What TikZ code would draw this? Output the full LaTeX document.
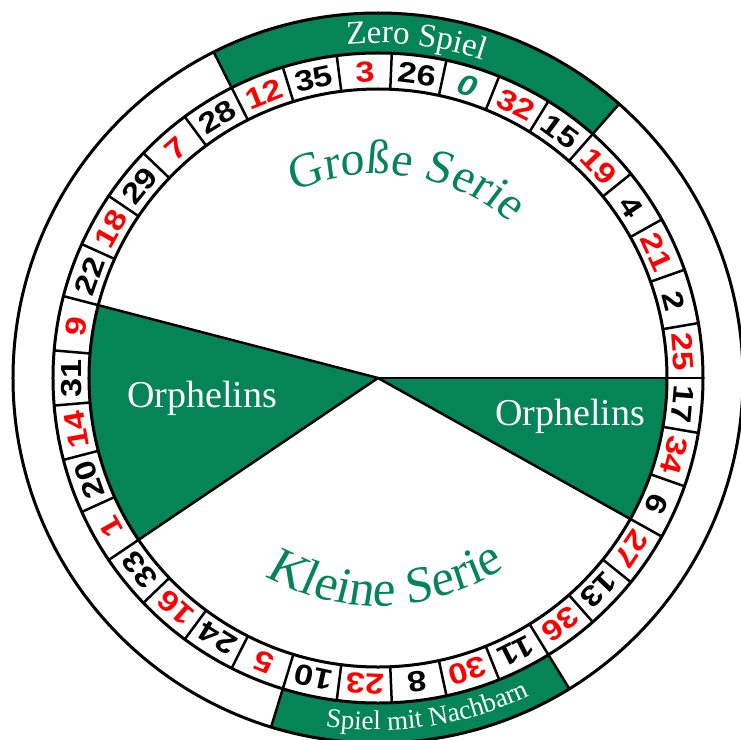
\documentclass[tikz,border=0pt]{standalone}
\usepackage{fontspec}
\usetikzlibrary{decorations.text}
\newfontfamily\numfont{Liberation Sans}[FakeStretch=1.18]
\newfontfamily\labfont{Liberation Serif}
\newfontfamily\seriefont{Liberation Serif}[FakeSlant=0.08]
\definecolor{zgreen}{RGB}{5,133,87}
\definecolor{nred}{RGB}{255,0,0}
\begin{document}
\begin{tikzpicture}[x=1pt,y=1pt,
  numb/.style={font=\numfont\bfseries\fontsize{29}{29}\selectfont, text=black, inner sep=0pt},
  numr/.style={numb, text=nred},
  numz/.style={numb, font=\numfont\bfseries\itshape\fontsize{29}{29}\selectfont, text=zgreen},
  orph/.style={font=\labfont\fontsize{38}{38}\selectfont, text=white, anchor=base, inner sep=0pt},
  ring/.style={line width=3pt},
  cellline/.style={line width=2.5pt, line cap=round}]
\path[use as bounding box] (-378,-361) rectangle (363,378);
\clip (-378,-361) rectangle (363,378);
\fill[white] (-378,-361) rectangle (363,378);
% Orphelins sectors
\fill[zgreen] (0,0) -- (0:289) arc[start angle=0, end angle=-29.189, radius=289] -- cycle;
\fill[zgreen] (0,0) -- (165.405:289) arc[start angle=165.405, end angle=214.054, radius=289] -- cycle;
% outer bands
\fill[zgreen] (116.757:325) arc[start angle=116.757, end angle=48.649, radius=325] -- (48.649:365) arc[start angle=48.649, end angle=116.757, radius=365] -- cycle;
\fill[zgreen] (-107.027:325) arc[start angle=-107.027, end angle=-58.378, radius=325] -- (-58.378:365) arc[start angle=-58.378, end angle=-107.027, radius=365] -- cycle;
% circles
\draw[ring] (0,0) circle[radius=365];
\draw[ring] (0,0) circle[radius=325];
\draw[ring] (0,0) circle[radius=289];
% cell dividers
\foreach \k in {0,...,36} \draw[cellline] ({(8-\k)*360/37}:289) -- ({(8-\k)*360/37}:325);
% band edges
\foreach \a in {116.757,48.649,-58.378,-107.027} \draw[cellline] (\a:325) -- (\a:365);
% sector edges
\foreach \a in {0,-29.189,165.405,214.054} \draw[cellline] (0,0) -- (\a:289);
% numbers
\foreach \n/\s [count=\i from 0] in {0/numz,32/numr,15/numb,19/numr,4/numb,21/numr,2/numb,25/numr,17/numb,34/numr,6/numb,27/numr,13/numb,36/numr,11/numb,30/numr,8/numb,23/numr,10/numb,5/numr,24/numb,16/numr,33/numb,1/numr,20/numb,14/numr,31/numb,9/numr,22/numb,18/numr,29/numb,7/numr,28/numb,12/numr,35/numb,3/numr,26/numb}
  \node[\s, rotate={(7.5-\i)*360/37-90}] (n\i) at ({(7.5-\i)*360/37}:306) {\n};
% labels
\node[orph] (orphL) at (-176,-29) {Orphelins};
\node[orph] (orphR) at (192,-47) {Orphelins};
\path[decorate, decoration={text along path, text align=center,
  text={|\seriefont\fontsize{48}{48}\selectfont\color{zgreen}|Große Serie}}]
  (122:204) arc[start angle=122, end angle=42, radius=204];
\path[decorate, decoration={text along path, text align=center,
  text={|\seriefont\fontsize{51}{51}\selectfont\color{zgreen}|Kleine Serie}}]
  (-126:228) arc[start angle=-126, end angle=-50, radius=228];
\path[decorate, decoration={text along path, text align=center,
  text={|\labfont\fontsize{33}{33}\selectfont\color{white}|Zero Spiel}}]
  (113.5:335) arc[start angle=113.5, end angle=53.5, radius=335];
\path[decorate, decoration={text along path, text align=center,
  text={|\labfont\fontsize{27}{27}\selectfont\color{white}|Spiel mit Nachbarn}}]
  (-116.5:352) arc[start angle=-116.5, end angle=-46.5, radius=352];
\end{tikzpicture}
\end{document}
